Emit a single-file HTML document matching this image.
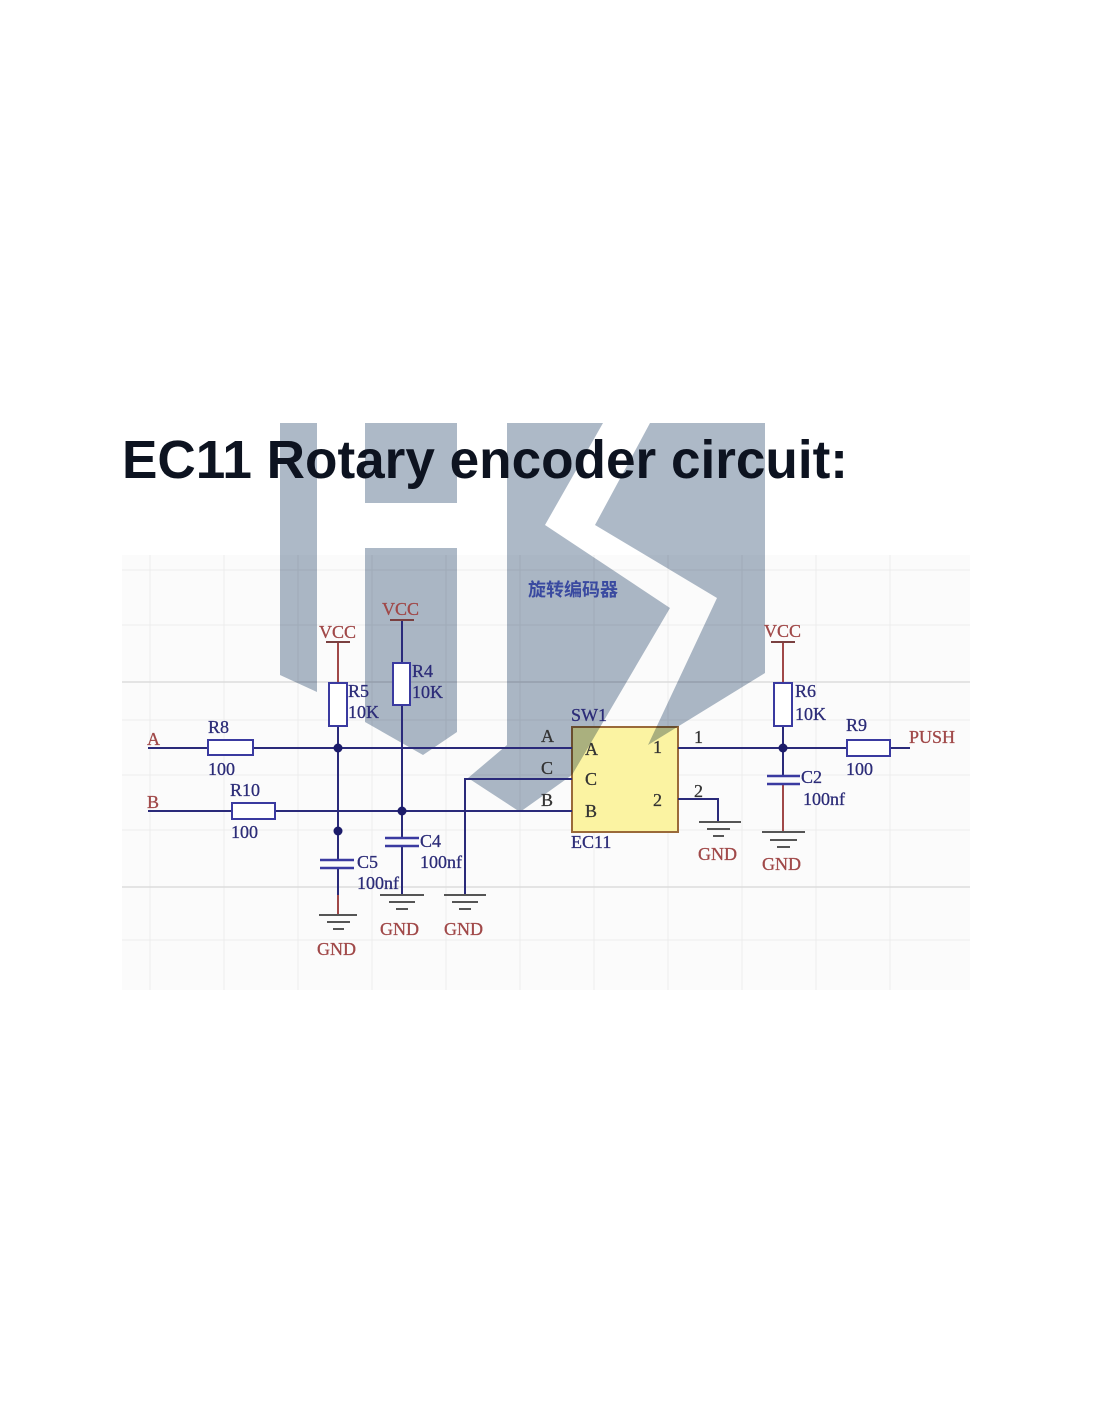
<!DOCTYPE html>
<html><head><meta charset="utf-8"><style>
html,body{margin:0;padding:0;background:#fff;}
svg{display:block;}
.sf{font-family:"Liberation Serif","Noto Serif CJK SC",serif;}
</style></head><body>
<svg width="1100" height="1422" viewBox="0 0 1100 1422" xmlns="http://www.w3.org/2000/svg">
<rect width="1100" height="1422" fill="#fff"/>
<rect x="122" y="555" width="848" height="435" fill="#fbfbfb"/>
<g stroke="#ececec" stroke-width="1">
<line x1="150" y1="555" x2="150" y2="990"/><line x1="224" y1="555" x2="224" y2="990"/>
<line x1="298" y1="555" x2="298" y2="990"/><line x1="372" y1="555" x2="372" y2="990"/>
<line x1="446" y1="555" x2="446" y2="990"/><line x1="520" y1="555" x2="520" y2="990"/>
<line x1="594" y1="555" x2="594" y2="990"/><line x1="668" y1="555" x2="668" y2="990"/>
<line x1="742" y1="555" x2="742" y2="990"/><line x1="816" y1="555" x2="816" y2="990"/>
<line x1="890" y1="555" x2="890" y2="990"/>
<line x1="122" y1="570" x2="970" y2="570"/><line x1="122" y1="625" x2="970" y2="625"/>
<line x1="122" y1="720" x2="970" y2="720"/><line x1="122" y1="775" x2="970" y2="775"/>
<line x1="122" y1="830" x2="970" y2="830"/><line x1="122" y1="940" x2="970" y2="940"/>
</g>
<g stroke="#dcdcdc" stroke-width="1.5">
<line x1="122" y1="682" x2="970" y2="682"/><line x1="122" y1="887" x2="970" y2="887"/>
</g>
<rect x="572" y="727" width="106" height="105" fill="#fbf3a2" stroke="#9a6a3a" stroke-width="2"/>
<g fill="#adb9c7" style="mix-blend-mode:multiply">
<polygon points="280,423 317,423 317,692 280,675"/>
<polygon points="365,423 457,423 457,503 365,503"/>
<polygon points="365,548 457,548 457,732 423,755 365,722"/>
<polygon points="507,423 603,423 545,525 670,608 572,775 520,812 468,778 507,745"/>
<polygon points="650,423 765,423 765,673 648,745 717,598 595,525"/>
</g>
<text x="122" y="478" font-family="'Liberation Sans',sans-serif" font-weight="bold" font-size="54" fill="#0d1320" textLength="726" lengthAdjust="spacingAndGlyphs">EC11 Rotary encoder circuit:</text>
<g stroke="#2a2a7a" stroke-width="2" fill="none">
<line x1="148" y1="748" x2="208" y2="748"/><line x1="253" y1="748" x2="572" y2="748"/>
<line x1="148" y1="811" x2="232" y2="811"/><line x1="275" y1="811" x2="572" y2="811"/>
<polyline points="572,779 465,779 465,895"/>
<line x1="338" y1="726" x2="338" y2="860"/><line x1="338" y1="868" x2="338" y2="895"/>
<line x1="402" y1="705" x2="402" y2="838"/><line x1="402" y1="846" x2="402" y2="895"/>
<line x1="402" y1="620" x2="402" y2="663"/>
<line x1="678" y1="748" x2="847" y2="748"/><line x1="890" y1="748" x2="910" y2="748"/>
<line x1="783" y1="726" x2="783" y2="776"/>
<polyline points="678,799 718,799 718,822"/>
</g>
<g stroke="#a04848" stroke-width="2" fill="none">
<line x1="338" y1="642" x2="338" y2="683"/><line x1="338" y1="895" x2="338" y2="915"/>
<line x1="783" y1="642" x2="783" y2="683"/><line x1="783" y1="784" x2="783" y2="832"/>
</g>
<g stroke="#7a4040" stroke-width="2">
<line x1="326" y1="642" x2="350" y2="642"/><line x1="390" y1="620" x2="414" y2="620"/><line x1="771" y1="642" x2="795" y2="642"/>
</g>
<g stroke="#3a3aa0" stroke-width="2" fill="#fff">
<rect x="208" y="740" width="45" height="15"/>
<rect x="232" y="803" width="43" height="16"/>
<rect x="329" y="683" width="18" height="43"/>
<rect x="393" y="663" width="17" height="42"/>
<rect x="774" y="683" width="18" height="43"/>
<rect x="847" y="740" width="43" height="16"/>
</g>
<g stroke="#3a3aa0" stroke-width="2.5">
<line x1="320" y1="860" x2="354" y2="860"/><line x1="320" y1="868" x2="354" y2="868"/>
<line x1="385" y1="838" x2="419" y2="838"/><line x1="385" y1="846" x2="419" y2="846"/>
<line x1="767" y1="776" x2="800" y2="776"/><line x1="767" y1="784" x2="800" y2="784"/>
</g>
<g stroke="#555" stroke-width="2">
<line x1="319" y1="915" x2="357" y2="915"/><line x1="327" y1="922" x2="350" y2="922"/><line x1="333" y1="929" x2="344" y2="929"/>
<line x1="380" y1="895" x2="424" y2="895"/><line x1="389" y1="902" x2="415" y2="902"/><line x1="396" y1="909" x2="408" y2="909"/>
<line x1="444" y1="895" x2="486" y2="895"/><line x1="452" y1="902" x2="478" y2="902"/><line x1="459" y1="909" x2="471" y2="909"/>
<line x1="699" y1="822" x2="741" y2="822"/><line x1="707" y1="829" x2="730" y2="829"/><line x1="713" y1="836" x2="724" y2="836"/>
<line x1="762" y1="832" x2="805" y2="832"/><line x1="770" y1="840" x2="797" y2="840"/><line x1="777" y1="847" x2="790" y2="847"/>
</g>
<g fill="#1c1c6a">
<circle cx="338" cy="748" r="4.5"/><circle cx="338" cy="831" r="4.5"/><circle cx="402" cy="811" r="4.5"/><circle cx="783" cy="748" r="4.5"/>
</g>
<g class="sf" fill="#a04848" font-size="18" stroke="#a04848" stroke-width="0.3">
<text x="147" y="745">A</text><text x="147" y="808">B</text>
<text x="319" y="638">VCC</text><text x="382" y="615">VCC</text><text x="764" y="637">VCC</text>
<text x="317" y="955">GND</text><text x="380" y="935">GND</text><text x="444" y="935">GND</text>
<text x="698" y="860">GND</text><text x="762" y="870">GND</text>
<text x="909" y="743">PUSH</text>
</g>
<g class="sf" fill="#2c2c78" font-size="18" stroke="#2c2c78" stroke-width="0.3">
<text x="208" y="733">R8</text><text x="208" y="775">100</text>
<text x="230" y="796">R10</text><text x="231" y="838">100</text>
<text x="348" y="697">R5</text><text x="348" y="718">10K</text>
<text x="412" y="677">R4</text><text x="412" y="698">10K</text>
<text x="357" y="868">C5</text><text x="357" y="889">100nf</text>
<text x="420" y="847">C4</text><text x="420" y="868">100nf</text>
<text x="571" y="721">SW1</text><text x="571" y="848">EC11</text>
<text x="795" y="697">R6</text><text x="795" y="720">10K</text>
<text x="801" y="783">C2</text><text x="803" y="805">100nf</text>
<text x="846" y="731">R9</text><text x="846" y="775">100</text>
</g>
<g class="sf" fill="#333" font-size="18" stroke="#333" stroke-width="0.3">
<text x="541" y="742">A</text><text x="541" y="774">C</text><text x="541" y="806">B</text>
<text x="585" y="755">A</text><text x="585" y="785">C</text><text x="585" y="817">B</text>
<text x="653" y="753">1</text><text x="653" y="806">2</text>
<text x="694" y="743">1</text><text x="694" y="797">2</text>
</g>
<text x="528" y="596" font-family="'Noto Sans CJK SC',sans-serif" font-weight="bold" font-size="18" fill="#3a4aa0">旋转编码器</text>
</svg>
</body></html>
